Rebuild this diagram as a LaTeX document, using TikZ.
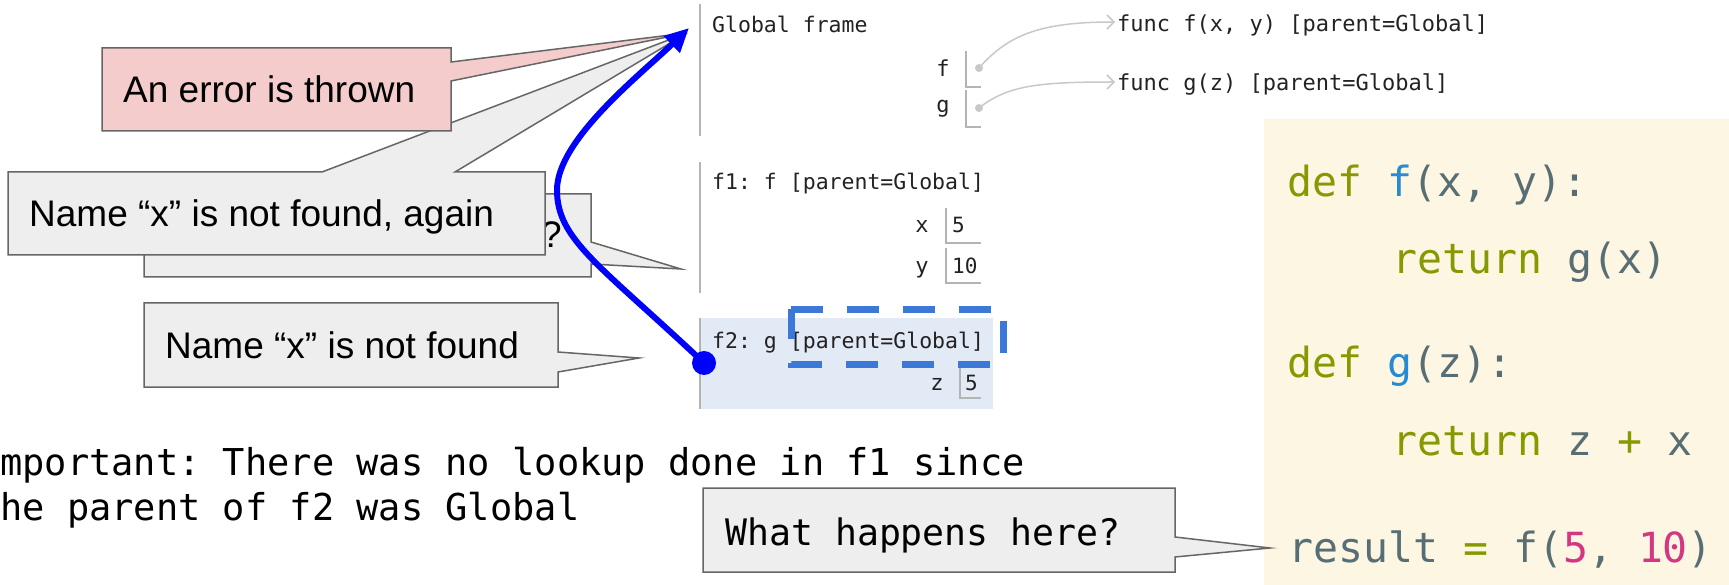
\documentclass[tikz,border=0pt]{standalone}
\usepackage{fontspec}
\setmainfont{Liberation Sans}
\setmonofont{DejaVu Sans Mono}
\usetikzlibrary{arrows.meta}

\definecolor{calloutgray}{HTML}{EEEEEE}
\definecolor{calloutred}{HTML}{F4CCCC}
\definecolor{calloutborder}{HTML}{666666}
\definecolor{codebg}{HTML}{FDF6E3}
\definecolor{solgreen}{HTML}{859900}
\definecolor{solblue}{HTML}{268BD2}
\definecolor{solbase}{HTML}{586E75}
\definecolor{solmag}{HTML}{D33682}
\definecolor{framebg}{HTML}{E2EAF6}
\definecolor{frameline}{HTML}{B4B4B4}
\definecolor{ptrgray}{HTML}{C8C8C8}
\definecolor{dashblue}{HTML}{3C78D8}
\definecolor{frametext}{HTML}{222222}

\tikzset{
  callout/.style={fill=calloutgray, draw=calloutborder, line width=1.5pt, line join=miter},
  callouttext/.style={font=\frenchspacing\fontsize{37}{44}\selectfont, anchor=base west, inner sep=0pt},
  slidemono/.style={font=\frenchspacing\ttfamily\fontsize{37}{44}\selectfont, anchor=base west, inner sep=0pt},
  codetext/.style={font=\frenchspacing\ttfamily\fontsize{41.5}{50}\selectfont, anchor=base west, inner sep=0pt, text=solbase},
  frametxt/.style={font=\frenchspacing\ttfamily\fontsize{21.5}{26}\selectfont, anchor=base west, inner sep=0pt, text=frametext},
  functxt/.style={font=\frenchspacing\ttfamily\fontsize{22}{26}\selectfont, anchor=base west, inner sep=0pt, text=frametext},
  varname/.style={font=\ttfamily\fontsize{22}{26}\selectfont, anchor=base, inner sep=0pt, text=frametext},
  varval/.style={font=\ttfamily\fontsize{21}{26}\selectfont, anchor=base west, inner sep=0pt, text=frametext},
  frameborder/.style={draw=frameline, line width=1.5pt},
  slotline/.style={draw=frameline, line width=1.2pt},
  ptrdot/.style={circle, fill=ptrgray, inner sep=0pt, minimum size=8pt},
  ptrarrow/.style={draw=ptrgray, line width=1.5pt, -{Straight Barb[length=7pt,width=14pt]}},
  lookup/.style={draw=blue, line width=6pt, -{Triangle[length=24pt,width=22pt]}},
}

\begin{document}
\begin{tikzpicture}[x=1pt,y=-1pt]
\useasboundingbox (0,0) rectangle (1729,585);

% code panel
\fill[codebg] (1264,119) rectangle (1729,585);
\node[codetext] (c1) at (1287,197) {\textcolor{solgreen}{def} \textcolor{solblue}{f}(x, y):};
\node[codetext] (c2) at (1392,273) {\textcolor{solgreen}{return} g(x)};
\node[codetext] (c3) at (1287,377) {\textcolor{solgreen}{def} \textcolor{solblue}{g}(z):};
\node[codetext] (c4) at (1392,455) {\textcolor{solgreen}{return} z \textcolor{solgreen}{+} x};
\node[codetext] (c5) at (1288,562) {result \textcolor{solgreen}{=} f(\textcolor{solmag}{5}, \textcolor{solmag}{10})};

% frames
\fill[framebg] (700,318) rectangle (993,409);
\draw[frameborder] (700,4) -- (700,136);
\draw[frameborder] (700,162) -- (700,293);
\draw[frameborder] (700,318) -- (700,409);

\node[frametxt] (gf) at (712,33) {Global frame};
\node[varname] (fname) at (943,77) {f};
\node[varname] (gname) at (943,113) {g};
\draw[slotline] (966,51) -- (966,87) -- (981,87);
\draw[slotline] (966,90) -- (966,127) -- (981,127);
\node[ptrdot] (fdot) at (979,68) {};
\node[ptrdot] (gdot) at (979,108) {};
\node[functxt] (funcf) at (1117,32) {func f(x, y) [parent=Global]};
\node[functxt] (funcg) at (1117,91) {func g(z) [parent=Global]};
\coordinate (fin) at (1115,22);
\coordinate (gin) at (1115,82);
\draw[ptrarrow] (fdot.center) .. controls (1008,35) and (1040,22) .. (fin);
\draw[ptrarrow] (gdot.center) .. controls (1008,85) and (1040,82) .. (gin);

\node[frametxt] (f1t) at (712,190) {f1: f [parent=Global]};
\node[varname] (xname) at (922,233) {x};
\draw[slotline] (946,208) -- (946,243) -- (981,243);
\node[varval] (xval) at (952,233) {5};
\node[varname] (yname) at (922,273) {y};
\draw[slotline] (946,248) -- (946,283) -- (981,283);
\node[varval] (yval) at (952,273) {10};

\node[frametxt] (f2t) at (712,348) {f2: g [parent=Global]};
\node[varname] (zname) at (937,390) {z};
\draw[slotline] (960,363) -- (960,398) -- (981,398);
\node[varval] (zval) at (965,390) {5};

% dashed highlight
\draw[dashblue, line width=7pt, dash pattern=on 32pt off 24pt]
  (791,309) -- (1003,309) -- (1003,364) -- (791,364) -- cycle;

% callouts
\coordinate (tipA) at (687,33);
\coordinate (tipB) at (681,269);
\coordinate (tipC) at (639,358);
\coordinate (tipD) at (1270,548);

\draw[callout] (144,194) -- (591,194) -- (591,242) -- (tipB) -- (591,264) -- (591,277) -- (144,277) -- cycle;
\node[callouttext] (qmark) at (541,248) {?};

\draw[callout] (8,172) -- (322,172) -- (tipA) -- (455,172) -- (545,172) -- (545,255) -- (8,255) -- cycle;
\node[callouttext] (againtxt) at (29,227) {Name “x” is not found, again};

\draw[callout, fill=calloutred] (102,48) -- (451,48) -- (451,62) -- (tipA) -- (451,81) -- (451,131) -- (102,131) -- cycle;
\node[callouttext] (errtxt) at (123,103) {An error is thrown};

\draw[callout] (144,303) -- (558,303) -- (558,352) -- (tipC) -- (558,372) -- (558,387) -- (144,387) -- cycle;
\node[callouttext] (nftxt) at (165,358) {Name “x” is not found};

\draw[callout] (703,488) -- (1175,488) -- (1175,537) -- (tipD) -- (1175,557) -- (1175,572) -- (703,572) -- cycle;
\node[slidemono, font=\frenchspacing\ttfamily\fontsize{36.5}{44}\selectfont] (whattxt) at (725,545) {What happens here?};

% note
\node[slidemono] (imp1) at (0,475) {mportant: There was no lookup done in f1 since};
\node[slidemono] (imp2) at (0,520) {he parent of f2 was Global};

% lookup arrow
\node[circle, fill=blue, inner sep=0pt, minimum size=24pt] (bdot) at (704,363) {};
\coordinate (btip) at (689,28);
\draw[lookup] (bdot.center) .. controls (600,265) and (557,240) .. (557,190)
  .. controls (557,140) and (640,75) .. (btip);
\end{tikzpicture}
\end{document}
